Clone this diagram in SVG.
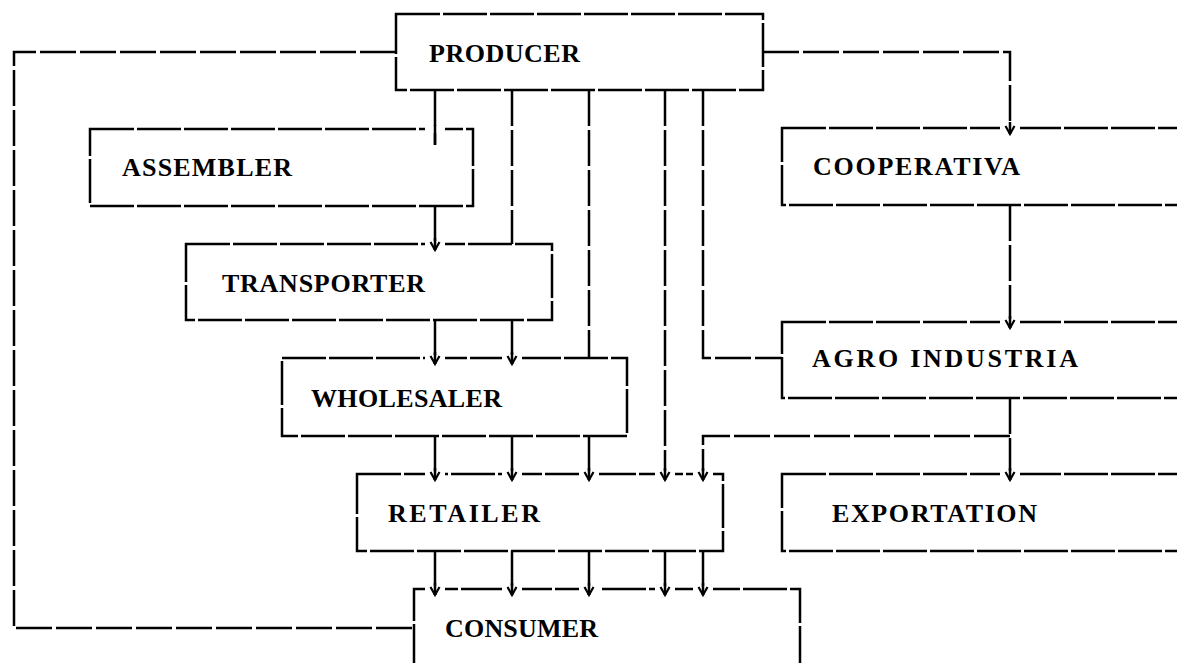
<svg xmlns="http://www.w3.org/2000/svg" width="1177" height="663" viewBox="0 0 1177 663">
<style>
.box{fill:none;stroke:#000;stroke-width:2.5;stroke-dasharray:44 3}
.ln{fill:none;stroke:#000;stroke-width:2.5;stroke-dasharray:36 4}
.lbl{font-family:"Liberation Serif","Times New Roman",serif;font-weight:bold;font-size:26px;fill:#000}
</style>
<defs>
<marker id="arr" markerUnits="userSpaceOnUse" markerWidth="30" markerHeight="30" viewBox="-15 -15 30 30" refX="0" refY="0" orient="auto">
<rect x="-9" y="-10" width="6" height="20" fill="#fff"/>
<path d="M-12,0 L0,0" stroke="#000" stroke-width="2.5"/>
<path d="M-8,-4.5 L0,0 L-8,4.5" fill="none" stroke="#000" stroke-width="2.2"/>
</marker>
<marker id="gap" markerUnits="userSpaceOnUse" markerWidth="40" markerHeight="40" viewBox="-20 -20 40 40" refX="0" refY="0" orient="auto">
<rect x="-18" y="-10" width="6" height="20" fill="#fff"/>
<path d="M-20,0 L0,0" stroke="#000" stroke-width="2.5"/>
</marker>
</defs>
<rect width="1177" height="663" fill="#fff"/>
<g id="producer"><rect class="box" x="396" y="14" width="367" height="76"/><text class="lbl" x="429" y="62" textLength="151" lengthAdjust="spacing">PRODUCER</text></g>
<g id="assembler"><rect class="box" x="90" y="129" width="383" height="77"/><text class="lbl" x="122" y="176" textLength="170" lengthAdjust="spacing">ASSEMBLER</text></g>
<g id="transporter"><rect class="box" x="186" y="244" width="366" height="76"/><text class="lbl" x="222" y="292" textLength="203" lengthAdjust="spacing">TRANSPORTER</text></g>
<g id="wholesaler"><rect class="box" x="282" y="358" width="345" height="78"/><text class="lbl" x="311" y="407" textLength="191" lengthAdjust="spacing">WHOLESALER</text></g>
<g id="retailer"><rect class="box" x="357" y="474" width="366" height="77"/><text class="lbl" x="388" y="522" textLength="152" lengthAdjust="spacing">RETAILER</text></g>
<g id="consumer"><rect class="box" x="414" y="589" width="386" height="100"/><text class="lbl" x="445" y="637" textLength="153" lengthAdjust="spacing">CONSUMER</text></g>
<g id="cooperativa"><rect class="box" x="782" y="128" width="410" height="77"/><text class="lbl" x="813" y="175" textLength="207" lengthAdjust="spacing">COOPERATIVA</text></g>
<g id="agroindustria"><rect class="box" x="782" y="322" width="410" height="76"/><text class="lbl" x="812" y="367" textLength="266" lengthAdjust="spacing">AGRO INDUSTRIA</text></g>
<g id="exportation"><rect class="box" x="782" y="474" width="410" height="77"/><text class="lbl" x="832" y="522" textLength="205" lengthAdjust="spacing">EXPORTATION</text></g>
<g id="connectors">
<path class="ln" d="M396,52 H14 V628 H414"/>
<path class="ln" d="M763,52 H1010 V134" marker-end="url(#arr)"/>
<path class="ln" d="M1010,205 V328" marker-end="url(#arr)"/>
<path class="ln" d="M1010,398 V480" marker-end="url(#arr)"/>
<path class="ln" d="M1010,436 H703 V480" marker-end="url(#arr)"/>
<path class="ln" d="M703,90 V358 H782"/>
<path class="ln" d="M435,90 V145" marker-end="url(#gap)"/>
<path class="ln" d="M435,206 V250" marker-end="url(#arr)"/>
<path class="ln" d="M512,90 V244"/>
<path class="ln" d="M435,320 V364" marker-end="url(#arr)"/>
<path class="ln" d="M512,320 V364" marker-end="url(#arr)"/>
<path class="ln" d="M589,90 V358"/>
<path class="ln" d="M435,436 V480" marker-end="url(#arr)"/>
<path class="ln" d="M512,436 V480" marker-end="url(#arr)"/>
<path class="ln" d="M589,436 V480" marker-end="url(#arr)"/>
<path class="ln" d="M665,90 V480" marker-end="url(#arr)"/>
<path class="ln" d="M435,551 V595" marker-end="url(#arr)"/>
<path class="ln" d="M512,551 V595" marker-end="url(#arr)"/>
<path class="ln" d="M589,551 V595" marker-end="url(#arr)"/>
<path class="ln" d="M665,551 V595" marker-end="url(#arr)"/>
<path class="ln" d="M703,551 V595" marker-end="url(#arr)"/>
</g>
</svg>
